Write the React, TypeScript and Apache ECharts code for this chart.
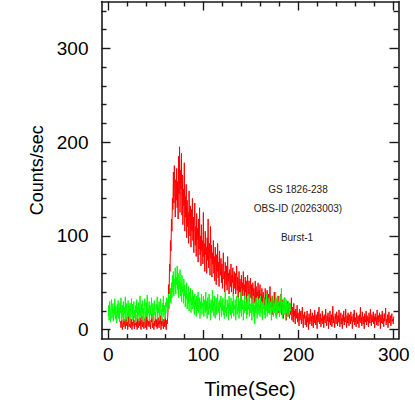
import React, { useEffect, useRef } from "react";
import * as echarts from "echarts";

// Light curves, 0.5 s bins
const binSize = 0.5;

const redStart = 13;
const redCounts = [
  9, 2, 12, 5, 0, 8, 14, 3, 6, 11,
  1, 7, 13, 4, 10, 0, 6, 15, 3, 9,
  12, 2, 5, 11, 0, 8, 4, 14, 7, 1,
  10, 5, 16, 3, 8, 0, 12, 6, 2, 11,
  4, 13, 7, 0, 9, 15, 3, 6, 10, 1,
  8, 12, 2, 5, 14, 0, 7, 11, 4, 9,
  3, 13, 6, 1, 10, 8, 17, 2, 5, 12,
  0, 9, 4, 14, 7, 3, 11, 1, 8, 13,
  5, 2, 10, 6, 15, 0, 9, 4, 12, 7,
  1, 11, 8, 3, 14, 5, 0, 10, 6, 13,
  22, 48, 38, 70, 62, 95, 84, 118, 105, 140,
  128, 168, 135, 175, 148, 120, 160, 138, 172, 130,
  158, 118, 185, 145, 195, 125, 170, 150, 188, 122,
  165, 112, 150, 132, 178, 105, 142, 120, 155, 98,
  138, 110, 125, 92, 148, 118, 100, 132, 88, 128,
  105, 140, 95, 120, 82, 115, 135, 90, 110, 78,
  124, 96, 108, 72, 118, 86, 130, 80, 100, 68,
  112, 84, 95, 70, 125, 78, 92, 62, 105, 80,
  88, 60, 98, 74, 118, 66, 84, 92, 58, 110,
  76, 90, 56, 82, 70, 95, 60, 78, 52, 88,
  68, 48, 80, 62, 92, 55, 72, 46, 84, 64,
  58, 76, 50, 70, 44, 66, 82, 54, 62, 40,
  72, 56, 48, 68, 42, 78, 52, 60, 38, 64,
  55, 46, 70, 40, 58, 50, 66, 36, 54, 62,
  44, 60, 38, 52, 68, 42, 56, 34, 48, 62,
  40, 54, 46, 30, 58, 44, 50, 36, 62, 42,
  48, 32, 56, 40, 52, 28, 46, 58, 36, 44,
  52, 30, 42, 55, 34, 48, 26, 40, 50, 32,
  44, 28, 38, 52, 30, 46, 24, 40, 36, 50,
  26, 42, 34, 48, 22, 38, 30, 44, 28, 36,
  40, 24, 34, 20, 44, 30, 36, 26, 42, 22,
  32, 38, 18, 30, 46, 24, 34, 20, 28, 36,
  16, 30, 24, 40, 20, 28, 34, 14, 26, 32,
  22, 36, 18, 28, 14, 30, 24, 38, 16, 26,
  20, 32, 12, 26, 22, 34, 16, 24, 10, 28,
  18, 30, 14, 24, 20, 12, 28, 16, 22, 34,
  10, 24, 16, 8, 28, 14, 20, 6, 22, 18,
  12, 26, 8, 18, 14, 4, 22, 10, 16, 20,
  6, 14, 24, 9, 2, 16, 12, 19, 5, 11,
  15, 3, 20, 8, 13, 0, 17, 10, 6, 22,
  9, 14, 4, 18, 11, 2, 15, 7, 21, 12,
  5, 16, 10, 1, 19, 8, 13, 24, 6, 11,
  17, 3, 12, 9, 20, 6, 14, 2, 16, 10,
  7, 22, 11, 4, 15, 9, 18, 1, 13, 8,
  20, 5, 12, 16, 3, 10, 25, 7, 14, 9,
  2, 17, 11, 6, 19, 13, 4, 15, 8, 21,
  10, 3, 14, 18, 6, 12, 1, 16, 9, 20,
  5, 13, 8, 22, 11, 2, 15, 7, 18, 10,
  4, 16, 12, 6, 19, 9, 14, 1, 11, 17,
  8, 21, 5, 13, 10, 3, 18, 12, 6, 15,
  11, 2, 16, 9, 24, 7, 13, 4, 19, 10,
  6, 14, 1, 17, 12, 8, 20, 5, 15, 9,
  13, 3, 18, 10, 7, 22, 11, 4, 16, 8,
  12, 19, 6, 14, 2, 17, 9, 13, 5, 21,
  10, 4, 15, 8, 18, 11, 1, 16, 7, 13,
  20, 6, 12, 3, 17, 9, 14, 23, 5, 11,
  8, 16, 2, 13, 19, 7, 10, 15, 4, 12,
  17, 9, 11, 6, 14,
];

const greenStart = 0;
const greenCounts = [
  14, 26, 10, 30, 18, 8, 24, 32, 12, 20,
  28, 9, 22, 16, 33, 11, 25, 19, 7, 27,
  15, 31, 12, 23, 8, 29, 18, 34, 10, 21,
  26, 13, 30, 9, 24, 17, 35, 11, 22, 28,
  8, 19, 31, 14, 25, 6, 28, 20, 12, 33,
  16, 27, 10, 23, 30, 13, 21, 7, 26, 18,
  32, 11, 24, 15, 29, 9, 22, 36, 14, 19,
  27, 10, 31, 17, 23, 8, 25, 33, 12, 20,
  29, 14, 37, 11, 22, 18, 30, 9, 26, 16,
  24, 34, 12, 20, 28, 7, 23, 31, 15, 19,
  11, 27, 21, 35, 13, 25, 18, 30, 10, 24,
  33, 16, 22, 9, 28, 19, 36, 14, 26, 20,
  12, 29, 24, 34, 18, 31, 26, 38, 22, 36,
  30, 44, 28, 50, 34, 58, 40, 62, 36, 54,
  46, 66, 38, 56, 48, 68, 42, 60, 34, 52,
  44, 64, 36, 50, 30, 58, 40, 46, 28, 54,
  36, 48, 24, 42, 32, 50, 22, 38, 28, 46,
  20, 40, 30, 44, 18, 34, 26, 42, 22, 36,
  28, 16, 38, 24, 32, 14, 36, 20, 30, 40,
  18, 26, 34, 12, 30, 22, 38, 16, 28, 24,
  36, 14, 26, 32, 18, 40, 20, 30, 12, 34,
  24, 16, 38, 22, 28, 10, 32, 26, 18, 42,
  20, 30, 14, 36, 24, 12, 28, 34, 16, 26,
  38, 18, 22, 30, 10, 32, 24, 36, 14, 28,
  20, 34, 16, 26, 12, 30, 40, 18, 24, 14,
  32, 22, 28, 10, 36, 20, 26, 16, 34, 12,
  24, 30, 18, 38, 14, 26, 22, 32, 10, 28,
  36, 16, 24, 20, 34, 12, 30, 18, 26, 40,
  14, 28, 22, 32, 10, 26, 18, 36, 20, 24,
  30, 12, 34, 16, 26, 22, 38, 14, 28, 18,
  24, 32, 10, 28, 20, 36, 14, 26, 6, 30,
  18, 34, 22, 12, 28, 16, 32, 20, 26, 14,
  36, 18, 24, 30, 10, 28, 22, 34, 16, 26,
  12, 32, 20, 38, 14, 24, 28, 18, 34, 22,
  16, 30, 26, 10, 36, 20, 24, 14, 32, 18,
  28, 22, 40, 12, 26, 34, 16, 30, 20, 24,
  14, 36, 18, 28, 44, 22, 12, 30, 24, 16,
  34, 20, 26, 10, 32, 18, 28, 22, 14, 30,
  24, 16, 28, 20, 22,
];

const xMajor = [0, 100, 200, 300];
const xMinor = [20, 40, 60, 80, 120, 140, 160, 180, 220, 240, 260, 280];
const yMajor = [0, 100, 200, 300];
const yMinor = [20, 40, 60, 80, 120, 140, 160, 180, 220, 240, 260, 280, 320, 340];

const annotations = ["GS 1826-238", "OBS-ID (20263003)", "Burst-1"];

const FONT = "Liberation Sans";

export default function App() {
  const ref = useRef<HTMLDivElement>(null);

  useEffect(() => {
    if (!ref.current) return;
    const chart = echarts.init(ref.current, null, { renderer: "svg" });

    const red = redCounts.map((v, i) => [redStart + i * binSize, v]);
    const green = greenCounts.map((v, i) => [greenStart + i * binSize, v]);

    const axisLine = { show: true, onZero: false, lineStyle: { color: "#1a1a1a", width: 1.6 } };
    const noLine = { show: false, onZero: false };
    const tickStyle = { color: "#1a1a1a", width: 1.4 };
    const mkX = (grid: number, pos: string, vals: number[], len: number, labels: boolean, line: boolean, name?: string) => ({
      type: "value",
      gridIndex: grid,
      position: pos,
      min: -7,
      max: 305,
      axisLine: line ? axisLine : noLine,
      axisTick: { show: true, inside: true, length: len, customValues: vals, lineStyle: tickStyle },
      axisLabel: labels
        ? { show: true, customValues: vals, fontSize: 19, color: "#000", fontFamily: FONT, margin: 6 }
        : { show: false },
      splitLine: { show: false },
      name: name,
      nameLocation: "middle",
      nameGap: 40,
      nameTextStyle: { fontSize: 20, color: "#000", fontFamily: FONT },
    });
    const mkY = (grid: number, pos: string, vals: number[], len: number, labels: boolean, line: boolean, name?: string) => ({
      type: "value",
      gridIndex: grid,
      position: pos,
      min: -10,
      max: 350,
      axisLine: line ? axisLine : noLine,
      axisTick: { show: true, inside: true, length: len, customValues: vals, lineStyle: tickStyle },
      axisLabel: labels
        ? { show: true, customValues: vals, fontSize: 19, color: "#000", fontFamily: FONT, margin: 13 }
        : { show: false },
      splitLine: { show: false },
      name: name,
      nameLocation: "middle",
      nameGap: 55,
      nameRotate: 90,
      nameTextStyle: { fontSize: 18, color: "#000", fontFamily: FONT },
    });

    const gridRect = { left: 101.5, right: 16.5, top: 1.5, bottom: 76 };

    chart.setOption({
      animation: false,
      backgroundColor: "#fff",
      grid: [gridRect, { ...gridRect }],
      xAxis: [
        mkX(0, "bottom", xMajor, 9, true, true, "Time(Sec)"),
        mkX(0, "top", xMajor, 9, false, true),
        mkX(1, "bottom", xMinor, 5, false, false),
        mkX(1, "top", xMinor, 5, false, false),
      ],
      yAxis: [
        mkY(0, "left", yMajor, 9, true, true, "Counts/sec"),
        mkY(0, "right", yMajor, 9, false, true),
        mkY(1, "left", yMinor, 5, false, false),
        mkY(1, "right", yMinor, 5, false, false),
      ],
      series: [
        {
          type: "line",
          xAxisIndex: 0,
          yAxisIndex: 0,
          data: red,
          showSymbol: false,
          lineStyle: { color: "#ff0000", width: 1 },
          itemStyle: { color: "#ff0000" },
        },
        {
          type: "line",
          xAxisIndex: 0,
          yAxisIndex: 0,
          data: green,
          showSymbol: false,
          lineStyle: { color: "#00ff00", width: 1 },
          itemStyle: { color: "#00ff00" },
        },
      ],
      graphic: [
        { type: "text", x: 298, y: 189, style: { text: annotations[0], fontSize: 10, fontFamily: FONT, fill: "#222", align: "center", verticalAlign: "middle" } },
        { type: "text", x: 298, y: 208, style: { text: annotations[1], fontSize: 10, fontFamily: FONT, fill: "#222", align: "center", verticalAlign: "middle" } },
        { type: "text", x: 297, y: 237, style: { text: annotations[2], fontSize: 10, fontFamily: FONT, fill: "#222", align: "center", verticalAlign: "middle" } },
      ],
    });

    return () => chart.dispose();
  }, []);

  return (
    <div
      ref={ref}
      style={{ position: "fixed", left: 0, top: 0, width: 415, height: 415, background: "#fff" }}
    />
  );
}
